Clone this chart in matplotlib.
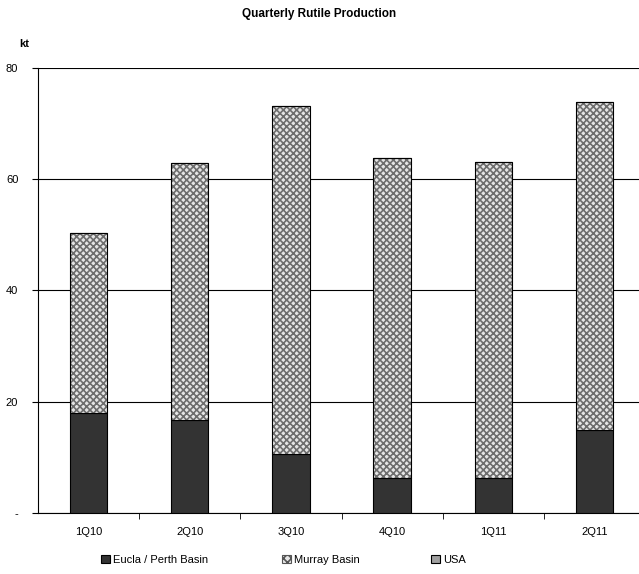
#Import the required packages
import matplotlib
matplotlib.use("Agg")
import matplotlib.pyplot as plt
from matplotlib.patches import Patch

plt.rcParams["font.family"] = ["Liberation Sans", "DejaVu Sans"]
plt.rcParams["font.size"] = 8
plt.rcParams["hatch.linewidth"] = 1.2

#Chart data (kt)
quarters = ["1Q10", "2Q10", "3Q10", "4Q10", "1Q11", "2Q11"]
eucla = [18.0, 16.8, 10.6, 6.3, 6.3, 15.0]
murray = [32.4, 46.0, 62.5, 57.5, 56.7, 58.8]
usa = [0, 0, 0, 0, 0, 0]
y_ticks = [0, 20, 40, 60, 80]
y_labels = ["-", "20", "40", "60", "80"]

fig = plt.figure(figsize=(6.39, 5.74), dpi=100)
ax = fig.add_axes([0.059, 0.106, 0.951, 0.776])

x = range(len(quarters))
width = 0.37

#Eucla / Perth Basin
ax.bar(x, eucla, width, color="#333333", edgecolor="black", linewidth=0.8, zorder=3)

#Murray Basin - hatch drawn in grey, outline in black
bottoms = eucla
ax.bar(x, murray, width, bottom=bottoms, color="#e6e6e6", edgecolor="#6e6e6e",
       hatch="xxxxx", linewidth=0, zorder=3)
ax.bar(x, murray, width, bottom=bottoms, fill=False, edgecolor="black",
       linewidth=0.8, zorder=4)

#USA
tops = [e + m for e, m in zip(eucla, murray)]
ax.bar(x, usa, width, bottom=tops, color="#a0a0a0", edgecolor="black",
       linewidth=0.8, zorder=3)

#Axes styling
ax.set_xlim(-0.5, len(quarters) - 0.5)
ax.set_ylim(0, 80)
ax.set_yticks(y_ticks)
ax.set_yticklabels(y_labels)
ax.set_xticks(list(x))
ax.set_xticklabels(quarters)
ax.set_xticks([i + 0.5 for i in range(len(quarters) - 1)], minor=True)
ax.tick_params(axis="x", which="major", length=0, pad=10)
ax.tick_params(axis="x", which="minor", length=4, direction="out")
ax.tick_params(axis="y", length=4, direction="out", pad=10)
ax.yaxis.grid(True, color="black", linewidth=0.8, zorder=0)
ax.set_axisbelow(True)
for side in ["top", "right"]:
    ax.spines[side].set_visible(False)
ax.spines["left"].set_linewidth(0.8)
ax.spines["bottom"].set_linewidth(0.8)

#Titles
fig.text(0.5, 0.975, "Quarterly Rutile Production", ha="center", va="center",
         fontweight="bold", fontsize=8.5)
fig.text(0.038, 0.923, "kt", ha="center", va="center", fontweight="bold")

#Legend - three entries spread along the bottom
legend_items = [
    (Patch(facecolor="#333333", edgecolor="black", linewidth=0.8), "Eucla / Perth Basin", 0.158),
    (Patch(facecolor="#e6e6e6", edgecolor="#555555", hatch="xxxx", linewidth=0.8), "Murray Basin", 0.441),
    (Patch(facecolor="#a0a0a0", edgecolor="black", linewidth=0.8), "USA", 0.674),
]
for handle, label, xpos in legend_items:
    fig.legend([handle], [label], loc="center left", bbox_to_anchor=(xpos, 0.025),
               frameon=False, handlelength=0.8, handleheight=0.8,
               handletextpad=0.3, borderpad=0, borderaxespad=0)

#Save the plot
fig.savefig("out.png", dpi=100)
